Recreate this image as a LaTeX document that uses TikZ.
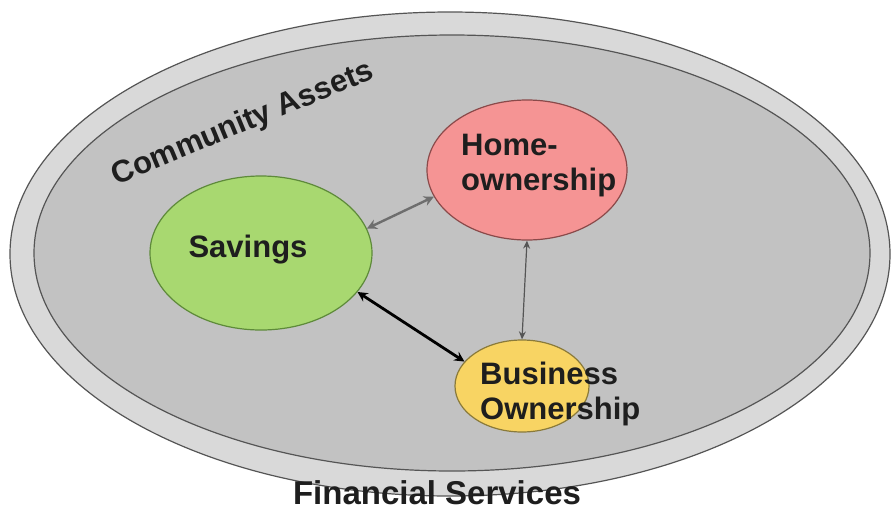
\documentclass[tikz,border=0pt]{standalone}
\usepackage{fontspec}
\setmainfont{Liberation Sans}
\usetikzlibrary{shapes.geometric,arrows.meta}
\definecolor{ringfill}{HTML}{D9D9D9}
\definecolor{innerfill}{HTML}{C2C2C2}
\definecolor{edgegray}{HTML}{555555}
\definecolor{savfill}{HTML}{A8D870}
\definecolor{savedge}{HTML}{5E8A3A}
\definecolor{homefill}{HTML}{F59494}
\definecolor{homeedge}{HTML}{8A4A4A}
\definecolor{busfill}{HTML}{F8D463}
\definecolor{busedge}{HTML}{8A7A3A}
\definecolor{txt}{HTML}{1E1E1E}
\tikzset{
  blob/.style={ellipse, inner sep=0pt, line width=1.2pt},
  lbl/.style={font=\bfseries\fontsize{31}{35}\selectfont, text=txt, align=left, inner sep=0pt},
  conn/.style={{Stealth[length=10pt,width=10pt]}-{Stealth[length=10pt,width=10pt]}},
}
\begin{document}
\begin{tikzpicture}[x=1pt,y=-1pt]
\useasboundingbox[fill=white] (0,0) rectangle (892,512);
\node[blob, draw=edgegray, fill=ringfill, minimum width=880pt, minimum height=484pt] (ring) at (450,254) {};
\node[blob, draw=edgegray, fill=innerfill, minimum width=836pt, minimum height=436pt] (inner) at (452,253) {};
\node[blob, draw=savedge, fill=savfill, minimum width=222pt, minimum height=154pt] (sav) at (261,253) {};
\node[blob, draw=homeedge, fill=homefill, minimum width=200pt, minimum height=140pt] (home) at (527,170) {};
\node[blob, draw=busedge, fill=busfill, minimum width=134pt, minimum height=92pt] (bus) at (522,386) {};
\node[lbl] (savt) at (248,250) {Savings};
\node[lbl, anchor=west] (homet) at (461,166) {Home-\\ownership};
\node[lbl, anchor=west] (bust) at (480,394) {Business\\Ownership};
\node[lbl, rotate=22.5] (comt) at (243,124) {Community Assets};
\node[lbl, font=\bfseries\fontsize{33}{36}\selectfont] (fint) at (437,493) {Financial Services};
\draw[conn, draw=edgegray!85, line width=2.4pt] (sav.13) -- (home.196);
\draw[conn, draw=edgegray, line width=1.2pt, {Stealth[length=8pt,width=7pt]}-{Stealth[length=8pt,width=7pt]}] (home.south) -- (bus.north);
\draw[conn, draw=black, line width=2.8pt] (sav.338) -- (bus.157);
\end{tikzpicture}
\end{document}
